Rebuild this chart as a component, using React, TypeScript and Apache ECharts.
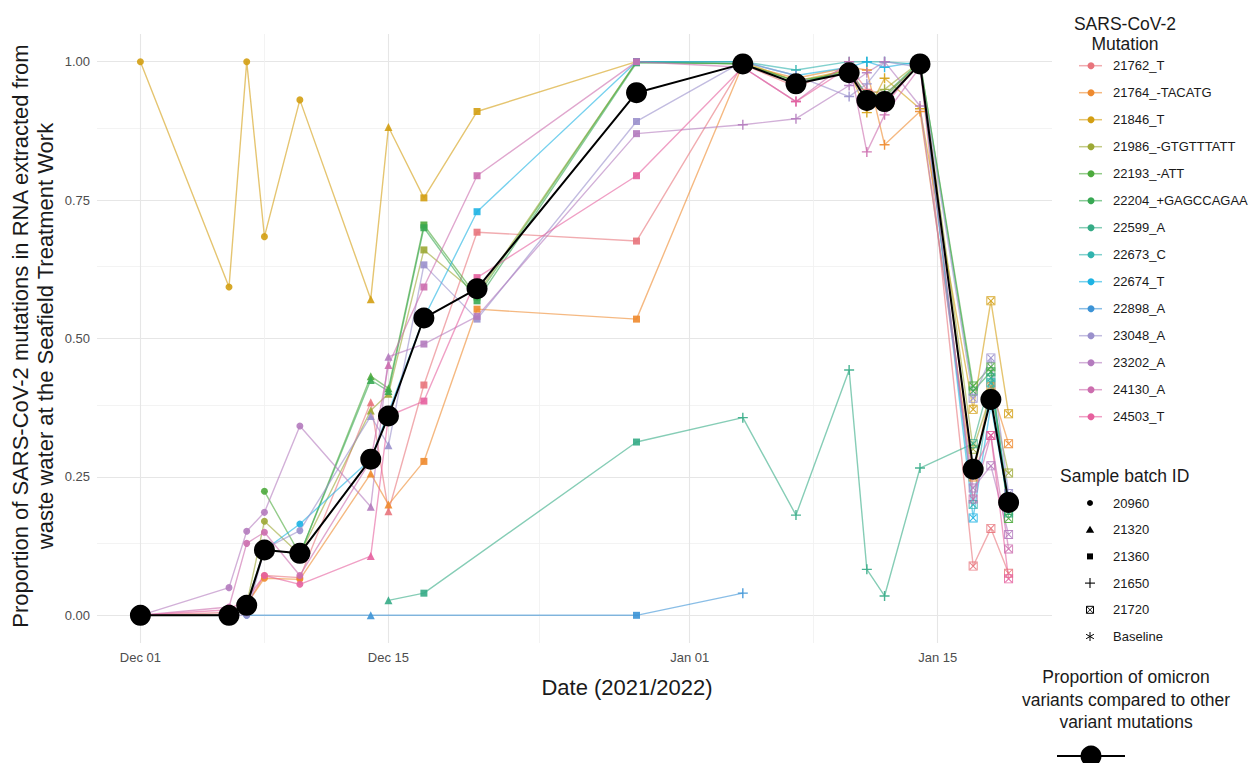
import React, { useEffect, useRef } from "react";
import * as echarts from "echarts";

const dates = [
  "2021-12-01", "2021-12-06", "2021-12-07", "2021-12-08", "2021-12-10",
  "2021-12-14", "2021-12-15", "2021-12-17", "2021-12-20", "2021-12-29",
  "2022-01-04", "2022-01-07", "2022-01-10", "2022-01-11", "2022-01-12",
  "2022-01-14", "2022-01-17", "2022-01-18", "2022-01-19",
];
const batches = [
  "20960", "20960", "20960", "20960", "20960",
  "21320", "21320", "21360", "21360", "21360",
  "21650", "21650", "21650", "21650", "21650",
  "21650", "21720", "21720", "21720",
];
const omicron = [0, 0, 0.018, 0.118, 0.112, 0.282, 0.36, 0.537, 0.59, 0.944, 0.996, 0.96, 0.98, 0.93, 0.928, 0.996, 0.264, 0.39, 0.204];

const mutationNames = [
  "21762_T", "21764_-TACATG", "21846_T", "21986_-GTGTTTATT", "22193_-ATT",
  "22204_+GAGCCAGAA", "22599_A", "22673_C", "22674_T", "22898_A",
  "23048_A", "23202_A", "24130_A", "24503_T",
];
const mutationColors = [
  "#E8747C", "#EE8A2E", "#D39E12", "#9CA935", "#4CAA3C",
  "#38A853", "#35AB86", "#2FB3AE", "#1DB3E3", "#3C93D6",
  "#9A90CC", "#B47BBE", "#CC6DAE", "#E6609E",
];

const m21762_T = [0, 0.005, 0.02, 0.072, 0.068, 0.385, 0.188, 0.416, 0.692, 0.676, 0.995, 0.955, 0.99, 0.95, 0.94, 0.995, 0.089, 0.157, 0.076];
const m21764_TACATG = [0, 0, 0.02, 0.067, 0.065, 0.256, 0.2, 0.278, 0.553, 0.535, 0.995, 0.97, 0.99, 0.985, 0.85, 0.91, 0.25, 0.413, 0.31];
const m21846_T = [1, 0.593, 1, 0.684, 0.931, 0.571, 0.882, 0.754, 0.91, 1, 1, 0.965, 0.985, 0.908, 0.97, 0.915, 0.372, 0.568, 0.364];
const m21986_GTGTTTATT = [0, 0, 0.02, 0.17, 0.11, 0.37, 0.4, 0.66, 0.58, 1, 0.996, 0.965, 0.98, 0.94, 0.95, 1, 0.3, 0.4, 0.257];
const m22193_ATT = [null, null, null, 0.224, 0.11, 0.432, 0.41, 0.705, 0.575, 1, 0.996, 0.96, 0.985, 0.94, 0.935, 1, 0.414, 0.449, 0.175];
const m22204_GAGCCAGAA = [0, 0, 0.02, 0.12, 0.11, 0.425, 0.405, 0.7, 0.568, 0.998, 0.996, 0.965, 0.98, 0.94, 0.94, 1, 0.405, 0.44, 0.19];
const m22599_A = [null, null, null, null, null, null, 0.027, 0.04, null, 0.313, 0.357, 0.181, 0.443, 0.083, 0.035, 0.266, 0.31, 0.429, 0.185];
const m22673_C = [null, null, null, null, null, null, null, null, null, 1, 1, 0.985, 1, 1, 1, 0.995, 0.2, 0.42, 0.21];
const m22674_T = [null, null, null, 0.118, 0.165, 0.282, null, 0.537, 0.729, 1, 1, 0.975, 0.99, 1, 0.99, 1, 0.176, 0.38, 0.2];
const m22898_A = [null, null, 0, null, null, 0, null, null, null, 0, 0.04, null, null, null, null, null, null, null, null];
const m23048_A = [0, 0, 0, 0.12, 0.153, 0.36, 0.307, 0.633, 0.535, 0.892, 1, 0.975, 0.937, 0.96, 1, 0.99, 0.392, 0.465, 0.22];
const m23202_A = [0, 0.05, 0.152, 0.186, 0.342, 0.196, 0.467, 0.49, 0.54, 0.87, 0.886, 0.897, 0.957, 0.98, 1, 0.92, 0.23, 0.27, 0.146];
const m24130_A = [0, 0.015, 0.13, 0.15, 0.072, 0.28, 0.452, 0.593, 0.794, 1, 0.99, 0.928, 1, 0.837, 0.904, 0.99, 0.21, 0.325, 0.12];
const m24503_T = [0, 0.01, 0.03, 0.072, 0.056, 0.107, 0.36, 0.387, 0.61, 0.794, 0.99, 0.928, 0.99, 0.93, 0.92, 1, 0.26, 0.325, 0.066];

const mutationValues = [
  m21762_T, m21764_TACATG, m21846_T, m21986_GTGTTTATT, m22193_ATT,
  m22204_GAGCCAGAA, m22599_A, m22673_C, m22674_T, m22898_A,
  m23048_A, m23202_A, m24130_A, m24503_T,
];

const xTickDays = [0, 14, 31, 45];
const xTickLabels = ["Dec 01", "Dec 15", "Jan 01", "Jan 15"];
const xMajorGrid = [0, 14, 31, 45];
const xMinorGrid = [7, 22.5, 38];
const yTicks = [0, 0.25, 0.5, 0.75, 1];
const yMinorGrid = [0.125, 0.375, 0.625, 0.875];
const batchIds = ["20960", "21320", "21360", "21650", "21720", "Baseline"];

const FONT = '"Liberation Sans", Arial, Helvetica, sans-serif';
const PLUS = "path://M4.3 0H5.7V4.3H10V5.7H5.7V10H4.3V5.7H0V4.3H4.3Z";
const SQX = "path://M0 0H10V10H0Z M1 1V9H9V1Z M1 1.8L1.8 1L9 8.2L8.2 9Z M1.8 9L1 8.2L8.2 1L9 1.8Z";
const batchSymbol: Record<string, [string, number]> = {
  "20960": ["circle", 7],
  "21320": ["triangle", 8],
  "21360": ["rect", 7],
  "21650": [PLUS, 10],
  "21720": [SQX, 9],
};

const dayOf = (d: string) => (Date.parse(d) - Date.parse(dates[0])) / 86400000;
const days = dates.map(dayOf);

export default function App() {
  const ref = useRef<HTMLDivElement>(null);
  useEffect(() => {
    if (!ref.current) return;
    const chart = echarts.init(ref.current, undefined, { renderer: "svg" });

    const gridLines: any[] = [];
    yTicks.forEach((v) => gridLines.push({ yAxis: v, lineStyle: { color: "#E6E6E6", width: 1.1, type: "solid" } }));
    yMinorGrid.forEach((v) => gridLines.push({ yAxis: v, lineStyle: { color: "#F0F0F0", width: 0.8, type: "solid" } }));
    xMajorGrid.forEach((v) => gridLines.push({ xAxis: v, lineStyle: { color: "#E6E6E6", width: 1.1, type: "solid" } }));
    xMinorGrid.forEach((v) => gridLines.push({ xAxis: v, lineStyle: { color: "#F0F0F0", width: 0.8, type: "solid" } }));

    const mutationSeries = mutationValues.map((vals, k) => ({
      type: "line",
      name: mutationNames[k],
      z: 3,
      silent: true,
      showSymbol: true,
      data: vals
        .map((v, i) =>
          v == null
            ? null
            : {
                value: [days[i], v],
                symbol: batchSymbol[batches[i]][0],
                symbolSize: batchSymbol[batches[i]][1],
              }
        )
        .filter((x) => x !== null),
      lineStyle: { color: mutationColors[k], width: 1.4, opacity: 0.6 },
      itemStyle: { color: mutationColors[k], opacity: 0.9 },
      emphasis: { disabled: true },
    }));

    const TXT = "#1a1a1a";
    const graphic: any[] = [];
    graphic.push({
      type: "text", x: 20, y: 336, rotation: Math.PI / 2,
      style: { text: "Proportion of SARS-CoV-2 mutations in RNA extracted from", fontSize: 22, fontFamily: FONT, fill: TXT, align: "center", verticalAlign: "middle" },
    });
    graphic.push({
      type: "text", x: 45, y: 336, rotation: Math.PI / 2,
      style: { text: "waste water at the Seafield Treatment Work", fontSize: 22, fontFamily: FONT, fill: TXT, align: "center", verticalAlign: "middle" },
    });
    graphic.push({
      type: "text", x: 627, y: 687,
      style: { text: "Date (2021/2022)", fontSize: 22, fontFamily: FONT, fill: TXT, align: "center", verticalAlign: "middle" },
    });
    graphic.push({ type: "text", x: 1125, y: 24, style: { text: "SARS-CoV-2", fontSize: 17.5, fontFamily: FONT, fill: TXT, align: "center", verticalAlign: "middle" } });
    graphic.push({ type: "text", x: 1125, y: 44, style: { text: "Mutation", fontSize: 17.5, fontFamily: FONT, fill: TXT, align: "center", verticalAlign: "middle" } });
    mutationNames.forEach((name, k) => {
      const y = 65.7 + 27 * k;
      graphic.push({ type: "line", shape: { x1: 1079, y1: y, x2: 1102, y2: y }, style: { stroke: mutationColors[k], lineWidth: 1.5, opacity: 0.6 } });
      graphic.push({ type: "circle", shape: { cx: 1091, cy: y, r: 3.5 }, style: { fill: mutationColors[k] } });
      graphic.push({ type: "text", x: 1113, y, style: { text: name, fontSize: 13, fontFamily: FONT, fill: TXT, align: "left", verticalAlign: "middle" } });
    });
    graphic.push({ type: "text", x: 1060, y: 476, style: { text: "Sample batch ID", fontSize: 17.5, fontFamily: FONT, fill: TXT, align: "left", verticalAlign: "middle" } });
    batchIds.forEach((id, k) => {
      const y = 503 + 26.7 * k;
      const cx = 1090;
      if (id === "20960") graphic.push({ type: "circle", shape: { cx, cy: y, r: 3 }, style: { fill: "#000" } });
      if (id === "21320") graphic.push({ type: "polygon", shape: { points: [[cx, y - 4], [cx + 4.2, y + 3], [cx - 4.2, y + 3]] }, style: { fill: "#000" } });
      if (id === "21360") graphic.push({ type: "rect", shape: { x: cx - 3, y: y - 3, width: 6, height: 6 }, style: { fill: "#000" } });
      if (id === "21650") {
        graphic.push({ type: "line", shape: { x1: cx - 5, y1: y, x2: cx + 5, y2: y }, style: { stroke: "#000", lineWidth: 1.1 } });
        graphic.push({ type: "line", shape: { x1: cx, y1: y - 5, x2: cx, y2: y + 5 }, style: { stroke: "#000", lineWidth: 1.1 } });
      }
      if (id === "21720") {
        graphic.push({ type: "rect", shape: { x: cx - 3.5, y: y - 3.5, width: 7, height: 7 }, style: { fill: "none", stroke: "#000", lineWidth: 1 } });
        graphic.push({ type: "line", shape: { x1: cx - 3.5, y1: y - 3.5, x2: cx + 3.5, y2: y + 3.5 }, style: { stroke: "#000", lineWidth: 0.9 } });
        graphic.push({ type: "line", shape: { x1: cx + 3.5, y1: y - 3.5, x2: cx - 3.5, y2: y + 3.5 }, style: { stroke: "#000", lineWidth: 0.9 } });
      }
      if (id === "Baseline") {
        [0, Math.PI / 3, (2 * Math.PI) / 3].forEach((a) => {
          const dx = 4.5 * Math.sin(a), dy = 4.5 * Math.cos(a);
          graphic.push({ type: "line", shape: { x1: cx - dx, y1: y - dy, x2: cx + dx, y2: y + dy }, style: { stroke: "#000", lineWidth: 1 } });
        });
      }
      graphic.push({ type: "text", x: 1113, y, style: { text: id, fontSize: 13, fontFamily: FONT, fill: TXT, align: "left", verticalAlign: "middle" } });
    });
    ["Proportion of omicron", "variants compared to other", "variant mutations"].forEach((t, k) => {
      graphic.push({ type: "text", x: 1126, y: 677 + 22.5 * k, style: { text: t, fontSize: 17.5, fontFamily: FONT, fill: TXT, align: "center", verticalAlign: "middle" } });
    });
    graphic.push({ type: "line", shape: { x1: 1057, y1: 756, x2: 1125, y2: 756 }, style: { stroke: "#000", lineWidth: 2.2 } });
    graphic.push({ type: "circle", shape: { cx: 1091, cy: 756, r: 10.5 }, style: { fill: "#000" } });

    chart.setOption({
      animation: false,
      backgroundColor: "#ffffff",
      grid: { left: 97, right: 198, top: 34, bottom: 120, containLabel: false },
      xAxis: {
        type: "value",
        min: -2.45,
        max: 51.45,
        axisLine: { show: false },
        axisTick: { show: false },
        splitLine: { show: false },
        axisLabel: {
          customValues: xTickDays,
          margin: 8,
          color: "#4D4D4D",
          fontSize: 13,
          fontFamily: FONT,
          formatter: (v: number) => {
            const i = xTickDays.findIndex((d) => Math.abs(d - v) < 1e-6);
            return i >= 0 ? xTickLabels[i] : "";
          },
        },
      },
      yAxis: {
        type: "value",
        min: -0.05,
        max: 1.05,
        axisLine: { show: false },
        axisTick: { show: false },
        splitLine: { show: false },
        axisLabel: {
          customValues: yTicks,
          margin: 7,
          color: "#4D4D4D",
          fontSize: 13,
          fontFamily: FONT,
          formatter: (v: number) => v.toFixed(2),
        },
      },
      graphic,
      series: [
        {
          type: "line",
          name: "grid",
          z: 0,
          silent: true,
          showSymbol: false,
          data: [],
          lineStyle: { opacity: 0 },
          markLine: {
            z: 0,
            silent: true,
            symbol: ["none", "none"],
            label: { show: false },
            animation: false,
            data: gridLines,
          },
        },
        ...mutationSeries,
        {
          type: "line",
          name: "omicron",
          z: 5,
          silent: true,
          data: omicron.map((v, i) => [days[i], v]),
          symbol: "circle",
          symbolSize: 21,
          lineStyle: { color: "#000", width: 2 },
          itemStyle: { color: "#000" },
          emphasis: { disabled: true },
        },
      ],
    });
    return () => chart.dispose();
  }, []);
  return <div ref={ref} style={{ position: "fixed", left: 0, top: 0, width: 1250, height: 763 }} />;
}
